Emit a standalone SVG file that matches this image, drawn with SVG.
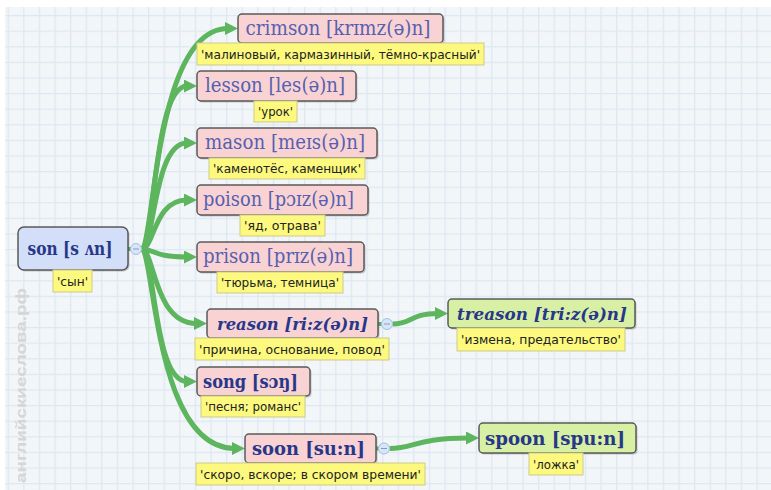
<svg xmlns="http://www.w3.org/2000/svg" width="771" height="490" viewBox="0 0 771 490">
<defs>
<pattern id="grid" x="7.6" y="15" width="15.6" height="15.6" patternUnits="userSpaceOnUse">
<rect width="15.6" height="15.6" fill="#f3f6f9"/>
<path d="M0.6 0V15.6M0 0.6H15.6" stroke="#dde8f2" stroke-width="1.4" fill="none"/>
</pattern>
<marker id="arr" markerUnits="userSpaceOnUse" markerWidth="14" markerHeight="14" refX="3" refY="6.5" orient="auto">
<path d="M0,0 L13,6.5 L0,13 Z" fill="#5db55d"/>
</marker>
<style>
.box{stroke:#595959;stroke-width:1.5}
.pink{fill:#f9d3d3}
.blue{fill:#d3dff8}
.green{fill:#d8f0a3}
.sh{fill:#000;opacity:.2}
.t{font-family:"DejaVu Serif",serif;font-size:19.5px;fill:#5660b0;text-anchor:middle}
.tb{font-weight:bold;font-size:18.5px;fill:#283789}
.ti{font-weight:bold;font-style:italic;font-size:17.5px;fill:#283789}
.lr{fill:#fcf97e;stroke:#cdc98c;stroke-width:1}
.lt{font-family:"DejaVu Sans",sans-serif;font-size:12.5px;fill:#222;text-anchor:middle}
.conn{fill:none;stroke:#5db55d;stroke-width:5}
.stub{fill:none;stroke:#5db55d;stroke-width:4}
.tg{fill:#d8e5f7;stroke:#a5bfe3;stroke-width:1}
.tm{stroke:#7f9fcb;stroke-width:1}
.wm{font-family:"Liberation Sans",sans-serif;font-weight:bold;font-size:15px;fill:#d6d6d6}
</style>
</defs>
<rect width="771" height="490" fill="#ffffff"/>
<rect x="5" y="7" width="766" height="483" fill="url(#grid)"/>
<text class="wm" transform="translate(26,483) rotate(-90)" textLength="195" lengthAdjust="spacingAndGlyphs">английскиеслова.рф</text>

<g id="connectors">
<path class="stub" d="M128 249H131"/>
<path class="stub" d="M378 324H382"/>
<path class="stub" d="M376 448.5H379"/>
<path class="conn" marker-end="url(#arr)" d="M141 249C155 249 153 28.5 228 28.5"/>
<path class="conn" marker-end="url(#arr)" d="M141 249C155 249 153 86 187 86"/>
<path class="conn" marker-end="url(#arr)" d="M141 249C155 249 153 143 187 143"/>
<path class="conn" marker-end="url(#arr)" d="M141 249C155 249 153 200 187 200"/>
<path class="conn" marker-end="url(#arr)" d="M141 249C155 249 153 257 187 257"/>
<path class="conn" marker-end="url(#arr)" d="M141 249C155 249 153 323.5 197 323.5"/>
<path class="conn" marker-end="url(#arr)" d="M141 249C155 249 153 381.5 187 381.5"/>
<path class="conn" marker-end="url(#arr)" d="M141 249C155 249 153 448.5 235 448.5"/>
<path class="conn" marker-end="url(#arr)" d="M392.5 324C412 324 410 313.5 438 313.5"/>
<path class="conn" marker-end="url(#arr)" d="M389.5 448.5C415 448.5 415 438 469 438"/>
</g>

<g id="son">
<rect class="sh" x="19.5" y="228.5" width="110" height="43" rx="6"/>
<rect class="box blue" x="18" y="227" width="110" height="43" rx="6"/>
<text class="t tb" x="70" y="255" textLength="85" lengthAdjust="spacingAndGlyphs">son [s ʌn]</text>
<rect class="lr" x="53" y="270" width="39" height="22"/>
<text class="lt" x="72.5" y="285.5" textLength="31" lengthAdjust="spacingAndGlyphs">'сын'</text>
<circle class="tg" cx="136" cy="249" r="5.5"/>
<path class="tm" d="M133 249H139"/>
</g>

<g id="crimson">
<rect class="sh" x="239.5" y="15.5" width="205" height="29" rx="4"/>
<rect class="box pink" x="238" y="14" width="205" height="29" rx="4"/>
<text class="t" x="338" y="35" textLength="185" lengthAdjust="spacingAndGlyphs">crimson [krɪmz(ə)n]</text>
<rect class="lr" x="197" y="43" width="287" height="22"/>
<text class="lt" x="340.5" y="58.5" textLength="279" lengthAdjust="spacingAndGlyphs">'малиновый, кармазинный, тёмно-красный'</text>
</g>

<g id="lesson">
<rect class="sh" x="198.5" y="72.5" width="159" height="30" rx="4"/>
<rect class="box pink" x="197" y="71" width="159" height="30" rx="4"/>
<text class="t" x="275" y="92" textLength="140" lengthAdjust="spacingAndGlyphs">lesson [les(ə)n]</text>
<rect class="lr" x="254" y="101" width="43" height="21"/>
<text class="lt" x="275.5" y="116" textLength="35" lengthAdjust="spacingAndGlyphs">'урок'</text>
</g>

<g id="mason">
<rect class="sh" x="198.5" y="129.5" width="180" height="30" rx="4"/>
<rect class="box pink" x="197" y="128" width="180" height="30" rx="4"/>
<text class="t" x="285" y="149" textLength="160" lengthAdjust="spacingAndGlyphs">mason [meɪs(ə)n]</text>
<rect class="lr" x="209" y="158" width="156" height="21"/>
<text class="lt" x="287" y="173" textLength="148" lengthAdjust="spacingAndGlyphs">'каменотёс, каменщик'</text>
</g>

<g id="poison">
<rect class="sh" x="198.5" y="186.5" width="171" height="30" rx="4"/>
<rect class="box pink" x="197" y="185" width="171" height="30" rx="4"/>
<text class="t" x="278.5" y="206" textLength="151" lengthAdjust="spacingAndGlyphs">poison [pɔɪz(ə)n]</text>
<rect class="lr" x="240" y="215" width="85" height="21"/>
<text class="lt" x="282.5" y="230" textLength="77" lengthAdjust="spacingAndGlyphs">'яд, отрава'</text>
</g>

<g id="prison">
<rect class="sh" x="198.5" y="243.5" width="167" height="30" rx="4"/>
<rect class="box pink" x="197" y="242" width="167" height="30" rx="4"/>
<text class="t" x="278" y="263" textLength="150" lengthAdjust="spacingAndGlyphs">prison [prɪz(ə)n]</text>
<rect class="lr" x="217" y="272" width="126" height="21"/>
<text class="lt" x="280" y="287" textLength="118" lengthAdjust="spacingAndGlyphs">'тюрьма, темница'</text>
</g>

<g id="reason">
<rect class="sh" x="208.5" y="310.5" width="171" height="29" rx="4"/>
<rect class="box pink" x="207" y="309" width="171" height="29" rx="4"/>
<text class="t ti" x="292.5" y="330" textLength="151" lengthAdjust="spacingAndGlyphs">reason [ri:z(ə)n]</text>
<rect class="lr" x="195" y="338" width="194" height="22"/>
<text class="lt" x="292" y="353.5" textLength="186" lengthAdjust="spacingAndGlyphs">'причина, основание, повод'</text>
<circle class="tg" cx="387" cy="324" r="5.5"/>
<path class="tm" d="M384 324H390"/>
</g>

<g id="song">
<rect class="sh" x="198.5" y="368.5" width="113" height="29" rx="4"/>
<rect class="box pink" x="197" y="367" width="113" height="29" rx="4"/>
<text class="t tb" x="250.5" y="388" textLength="95" lengthAdjust="spacingAndGlyphs">song [sɔŋ]</text>
<rect class="lr" x="201" y="396" width="104" height="21"/>
<text class="lt" x="253" y="411" textLength="96" lengthAdjust="spacingAndGlyphs">'песня; романс'</text>
</g>

<g id="soon">
<rect class="sh" x="246.5" y="435.5" width="131" height="29" rx="4"/>
<rect class="box pink" x="245" y="434" width="131" height="29" rx="4"/>
<text class="t tb" x="308.5" y="455" textLength="113" lengthAdjust="spacingAndGlyphs">soon [su:n]</text>
<rect class="lr" x="196" y="463" width="229" height="22"/>
<text class="lt" x="310.5" y="478.5" textLength="221" lengthAdjust="spacingAndGlyphs">'скоро, вскоре; в скором времени'</text>
<circle class="tg" cx="384" cy="448.5" r="5.5"/>
<path class="tm" d="M381 448.5H387"/>
</g>

<g id="treason">
<rect class="sh" x="449.5" y="300.5" width="187" height="29" rx="4"/>
<rect class="box green" x="448" y="299" width="187" height="29" rx="4"/>
<text class="t ti" x="542" y="320" textLength="170" lengthAdjust="spacingAndGlyphs">treason [tri:z(ə)n]</text>
<rect class="lr" x="457" y="328" width="168" height="23"/>
<text class="lt" x="541" y="344" textLength="160" lengthAdjust="spacingAndGlyphs">'измена, предательство'</text>
</g>

<g id="spoon">
<rect class="sh" x="480.5" y="424.5" width="157" height="30" rx="4"/>
<rect class="box green" x="479" y="423" width="157" height="30" rx="4"/>
<text class="t tb" x="555" y="445" textLength="140" lengthAdjust="spacingAndGlyphs">spoon [spu:n]</text>
<rect class="lr" x="529" y="453" width="54" height="22"/>
<text class="lt" x="556" y="468.5" textLength="46" lengthAdjust="spacingAndGlyphs">'ложка'</text>
</g>
</svg>
